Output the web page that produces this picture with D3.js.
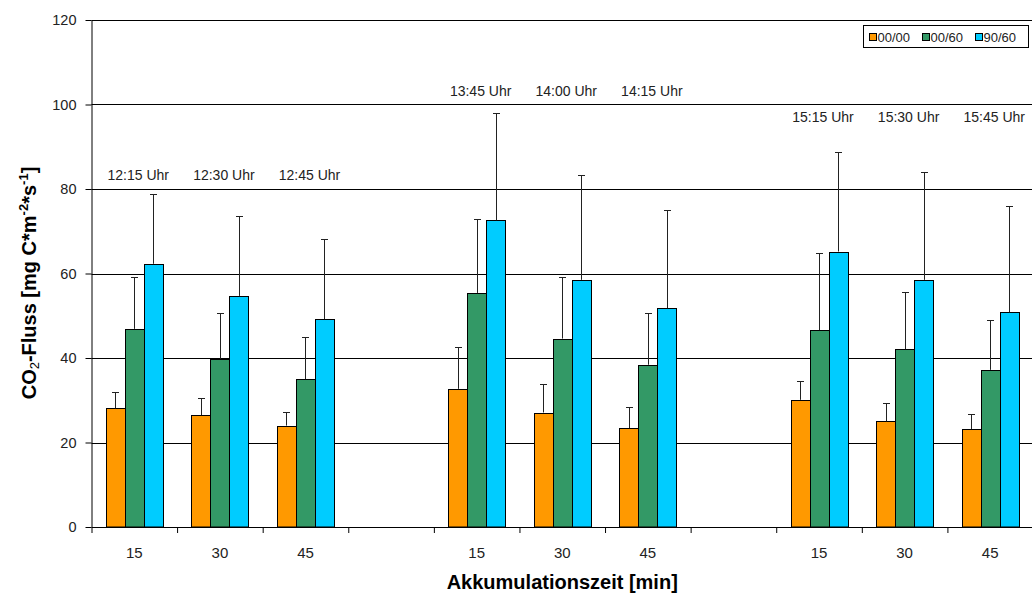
<!DOCTYPE html>
<html>
<head>
<meta charset="utf-8">
<script src="https://cdn.jsdelivr.net/npm/d3@7"></script>
<style>
  body { margin: 0; background: #fff; }
  svg { font-family: "Liberation Sans", Arial, sans-serif; display: block; }
</style>
</head>
<body>
<div id="container"></div>
<script>
// slots on the x axis (empty strings are the gaps between measurement series)
const categories = ["15", "30", "45", "", "15", "30", "45", "", "15", "30", "45"];
const seriesNames = ["00/00", "00/60", "90/60"];
const colors = ["#FF9900", "#339966", "#00CCFF"];

const orange = [28.1, 26.5, 24.0, null, 32.7, 27.1, 23.4, null, 30.1, 25.0, 23.2];
const green = [46.9, 39.8, 35.0, null, 55.4, 44.6, 38.4, null, 46.6, 42.1, 37.2];
const blue = [62.3, 54.7, 49.2, null, 72.6, 58.5, 51.8, null, 65.2, 58.5, 50.8];

const orangeErr = [3.9, 4.0, 3.3, null, 9.8, 6.7, 4.9, null, 4.4, 4.4, 3.6];
const greenErr = [12.3, 10.9, 10.0, null, 17.6, 14.6, 12.3, null, 18.3, 13.6, 11.8];
const blueErr = [16.4, 19.0, 18.9, null, 25.3, 24.7, 23.2, null, 23.6, 25.5, 25.2];

// time annotations above each group, with their height in y units
const timeLabels = ["12:15 Uhr", "12:30 Uhr", "12:45 Uhr", null, "13:45 Uhr", "14:00 Uhr", "14:15 Uhr", null, "15:15 Uhr", "15:30 Uhr", "15:45 Uhr"];
const timeLevels = [82.1, 82.1, 82.1, null, 102.1, 102.1, 102.1, null, 95.8, 95.8, 95.8];

const yTicks = [0, 20, 40, 60, 80, 100, 120];

const values = [orange, green, blue];
const errors = [orangeErr, greenErr, blueErr];

const width = 1032;
const height = 594;
const plotLeft = 91.5, plotRight = 1033, plotTop = 20, plotBottom = 527;

const svg = d3.select("#container")
	.append("svg")
		.attr("width", width)
		.attr("height", height);

const y = d3.scaleLinear()
	.domain([0, 120])
	.range([plotBottom, plotTop]);

const x0 = d3.scaleBand()
	.domain(d3.range(categories.length))
	.range([plotLeft, plotRight])
	.paddingInner(0.334)
	.paddingOuter(0.167);

const x1 = d3.scaleBand()
	.domain(d3.range(seriesNames.length))
	.range([0, x0.bandwidth()]);

const xEdge = d3.scaleLinear()
	.domain([0, categories.length])
	.range([plotLeft, plotRight]);

// grid lines
svg.append("g")
	.selectAll("line")
	.data(yTicks.filter((d) => d > 0))
	.join("line")
		.attr("x1", plotLeft)
		.attr("x2", plotRight)
		.attr("y1", (d) => Math.round(y(d)) + 0.5)
		.attr("y2", (d) => Math.round(y(d)) + 0.5)
		.style("stroke", "#000")
		.style("stroke-width", 1);

// bars
const rows = [];
categories.forEach((c, i) => {
	values.forEach((vals, s) => {
		if (vals[i] != null) rows.push({ i: i, s: s, v: vals[i], e: errors[s][i] });
	});
});

const bars = svg.append("g")
	.selectAll("g")
	.data(rows)
	.join("g");

bars.append("rect")
	.attr("x", (d) => Math.round(x0(d.i) + x1(d.s)) + 0.5)
	.attr("y", (d) => Math.round(y(d.v)) + 0.5)
	.attr("width", x1.bandwidth())
	.attr("height", (d) => y(0) - Math.round(y(d.v)) - 0.5)
	.style("fill", (d) => colors[d.s])
	.style("stroke", "#000")
	.style("stroke-width", 1);

// error bars (upper half only)
const cx = (d) => Math.round(x0(d.i) + x1(d.s) + x1.bandwidth() / 2) + 0.5;
bars.append("line")
	.attr("x1", cx)
	.attr("x2", cx)
	.attr("y1", (d) => y(d.v))
	.attr("y2", (d) => Math.round(y(d.v + d.e)) + 0.5)
	.style("stroke", "#222");
bars.append("line")
	.attr("x1", (d) => cx(d) - 3.5)
	.attr("x2", (d) => cx(d) + 3.5)
	.attr("y1", (d) => Math.round(y(d.v + d.e)) + 0.5)
	.attr("y2", (d) => Math.round(y(d.v + d.e)) + 0.5)
	.style("stroke", "#222");

// y axis
const yAxis = svg.append("g")
	.attr("transform", `translate(${plotLeft},0)`)
	.call(d3.axisLeft(y).tickValues(yTicks).tickSize(6).tickPadding(9).tickSizeOuter(0));
yAxis.selectAll("text").style("font-size", "14.5px").style("fill", "#222");
yAxis.selectAll("line, path").style("stroke", "#000");

// x axis: ticks at slot edges, labels at slot centers
const xAxis = svg.append("g")
	.attr("transform", `translate(0,${plotBottom})`)
	.call(d3.axisBottom(xEdge).ticks(categories.length).tickSize(6).tickFormat("").tickSizeOuter(0));
xAxis.selectAll("line, path").style("stroke", "#000");

const xLabels = svg.append("g")
	.attr("transform", `translate(0,${plotBottom})`)
	.call(d3.axisBottom(x0).tickSize(0).tickPadding(20).tickFormat((i) => categories[i]));
xLabels.select(".domain").remove();
xLabels.selectAll("text").style("font-size", "15px").style("fill", "#222");

// time annotations
svg.append("g")
	.selectAll("text")
	.data(timeLabels.map((t, i) => ({ t: t, i: i, lv: timeLevels[i] })).filter((d) => d.t))
	.join("text")
		.attr("x", (d) => x0(d.i) + x0.bandwidth() / 2 + 4)
		.attr("y", (d) => y(d.lv))
		.attr("text-anchor", "middle")
		.style("font-size", "14px")
		.style("fill", "#222")
		.text((d) => d.t);

// axis titles
const yTitle = svg.append("text")
	.attr("transform", "translate(36,283) rotate(-90)")
	.attr("text-anchor", "middle")
	.style("font-size", "20px")
	.style("font-weight", "bold");
yTitle.append("tspan").text("CO");
yTitle.append("tspan").text("2").style("font-size", "13px").style("font-weight", "normal").attr("dy", 3);
yTitle.append("tspan").text("-Fluss [mg C*m").attr("dy", -3);
yTitle.append("tspan").text("-2").style("font-size", "13px").attr("dy", -8);
yTitle.append("tspan").text("*s").attr("dy", 8);
yTitle.append("tspan").text("-1").style("font-size", "13px").attr("dy", -8);
yTitle.append("tspan").text("]").attr("dy", 8);

svg.append("text")
	.attr("x", (plotLeft + plotRight) / 2)
	.attr("y", 589)
	.attr("text-anchor", "middle")
	.style("font-size", "20px")
	.style("font-weight", "bold")
	.text("Akkumulationszeit [min]");

// legend
const legend = svg.append("g").attr("transform", "translate(863.5,25.5)");
legend.append("rect")
	.attr("width", 165)
	.attr("height", 22)
	.style("fill", "#fff")
	.style("stroke", "#000");
const items = legend.selectAll(".item")
	.data(seriesNames)
	.join("g")
		.attr("class", "item")
		.attr("transform", (d, i) => `translate(${6 + i * 53},0)`);
items.append("rect")
	.attr("y", 8)
	.attr("width", 7)
	.attr("height", 7)
	.style("fill", (d, i) => colors[i])
	.style("stroke", "#000");
items.append("text")
	.attr("x", 8)
	.attr("y", 16)
	.style("font-size", "13px")
	.style("fill", "#222")
	.text((d) => d);
</script>
</body>
</html>
